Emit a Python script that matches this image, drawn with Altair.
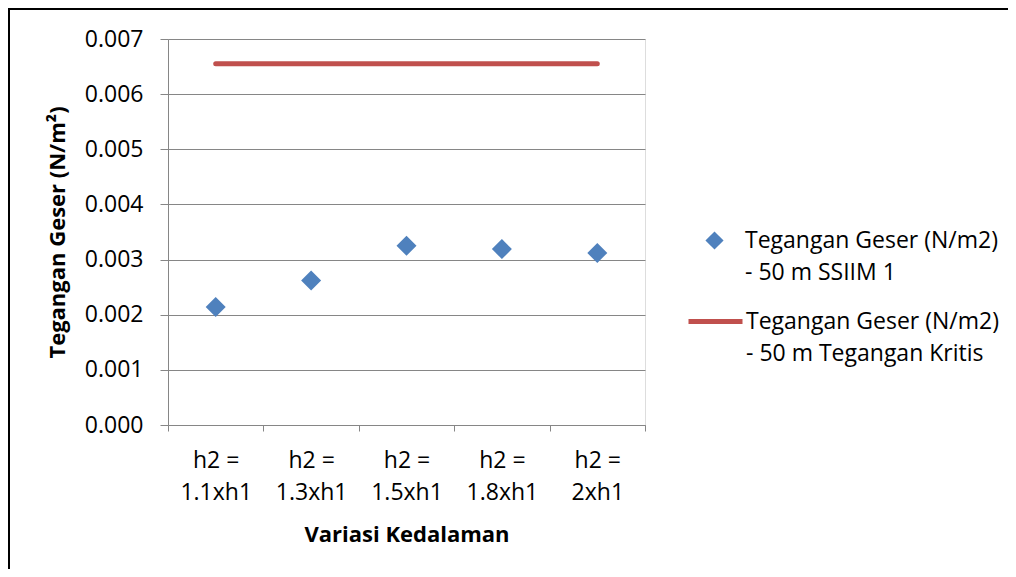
import altair as alt
import pandas as pd

categories = ["h2 =|1.1xh1", "h2 =|1.3xh1", "h2 =|1.5xh1", "h2 =|1.8xh1", "h2 =|2xh1"]
ssiim_values = [0.00214, 0.00262, 0.00325, 0.00319, 0.00312]
kritis_values = [0.00655, 0.00655, 0.00655, 0.00655, 0.00655]
series_ssiim = "Tegangan Geser (N/m2)|- 50 m SSIIM 1"
series_kritis = "Tegangan Geser (N/m2)|- 50 m Tegangan Kritis"
y_ticks = [0.000, 0.001, 0.002, 0.003, 0.004, 0.005, 0.006, 0.007]

BLUE = "#4F81BD"
RED = "#C0504D"
GRID = "#868686"
FONT = "Open Sans"
FS = 23

df_pts = pd.DataFrame({"cat": categories, "val": ssiim_values, "series": series_ssiim})
df_line = pd.DataFrame({"cat": categories, "val": kritis_values, "series": series_kritis})

W, H = 477, 386

x_enc = alt.X(
    "cat:N",
    sort=categories,
    scale=alt.Scale(paddingInner=0, paddingOuter=0),
    axis=alt.Axis(
        title="Variasi Kedalaman",
        labelExpr="split(datum.label, '|')",
        labelAngle=0,
        labelFont=FONT, labelFontSize=FS, labelColor="black",
        labelLineHeight=32, labelBaseline="top", labelPadding=18,
        tickBand="extent", tickSize=6, tickColor=GRID,
        domainColor=GRID, grid=False,
        titleFont=FONT, titleFontSize=22, titleFontWeight="bold", titleColor="black",
        titleX=W / 2, titleY=116, titleBaseline="alphabetic",
    ),
)
y_enc = alt.Y(
    "val:Q",
    scale=alt.Scale(domain=[0, 0.007], nice=False),
    axis=alt.Axis(
        title="Tegangan Geser (N/m²)",
        values=y_ticks, format=".3f",
        labelFont=FONT, labelFontSize=FS, labelColor="black", labelPadding=17,
        tickSize=8, tickColor=GRID, domainColor=GRID,
        grid=True, gridColor=GRID, gridWidth=1,
        titleFont=FONT, titleFontSize=22, titleFontWeight="bold", titleColor="black",
        titleX=-104, titleY=H / 2, titleBaseline="alphabetic",
    ),
)

line = alt.Chart(df_line).mark_line(strokeWidth=5, strokeCap="round").encode(
    x=x_enc, y=y_enc,
    stroke=alt.Stroke(
        "series:N",
        scale=alt.Scale(range=[RED]),
        legend=alt.Legend(
            title=None, orient="none", legendX=518, legendY=253,
            symbolType="stroke", symbolSize=2916, symbolStrokeWidth=5,
            labelExpr="split(datum.label, '|')",
            labelFont=FONT, labelFontSize=FS, labelColor="black",
            labelLimit=400, labelOffset=1, padding=0,
        ),
    ),
)

points = alt.Chart(df_pts).mark_point(shape="diamond", filled=True, size=400, opacity=1).encode(
    x=x_enc, y=y_enc,
    fill=alt.Fill(
        "series:N",
        scale=alt.Scale(range=[BLUE]),
        legend=alt.Legend(
            title=None, orient="none", legendX=535, legendY=190,
            symbolType="diamond", symbolSize=330, symbolStrokeWidth=0, symbolOpacity=1,
            labelExpr="split(datum.label, '|')",
            labelFont=FONT, labelFontSize=FS, labelColor="black",
            labelLimit=400, labelOffset=19, padding=0,
        ),
    ),
)

frame = alt.Chart(pd.DataFrame({"a": [0]})).mark_rect(
    fill=None, stroke="black", strokeWidth=2
).encode(
    x=alt.value(-159), y=alt.value(-30), x2=alt.value(1200), y2=alt.value(800)
)

chart = alt.layer(frame, line, points).resolve_scale(fill="independent", stroke="independent").properties(
    width=W, height=H,
    autosize=alt.AutoSizeParams(type="none"),
    padding={"left": 160, "top": 31, "right": 363, "bottom": 144},
).configure_view(stroke=None).configure(
    background="white",
    style={"guide-label": {"lineHeight": 32}},
)

chart.save("out.html", embed_options={"renderer": "svg", "actions": False})
